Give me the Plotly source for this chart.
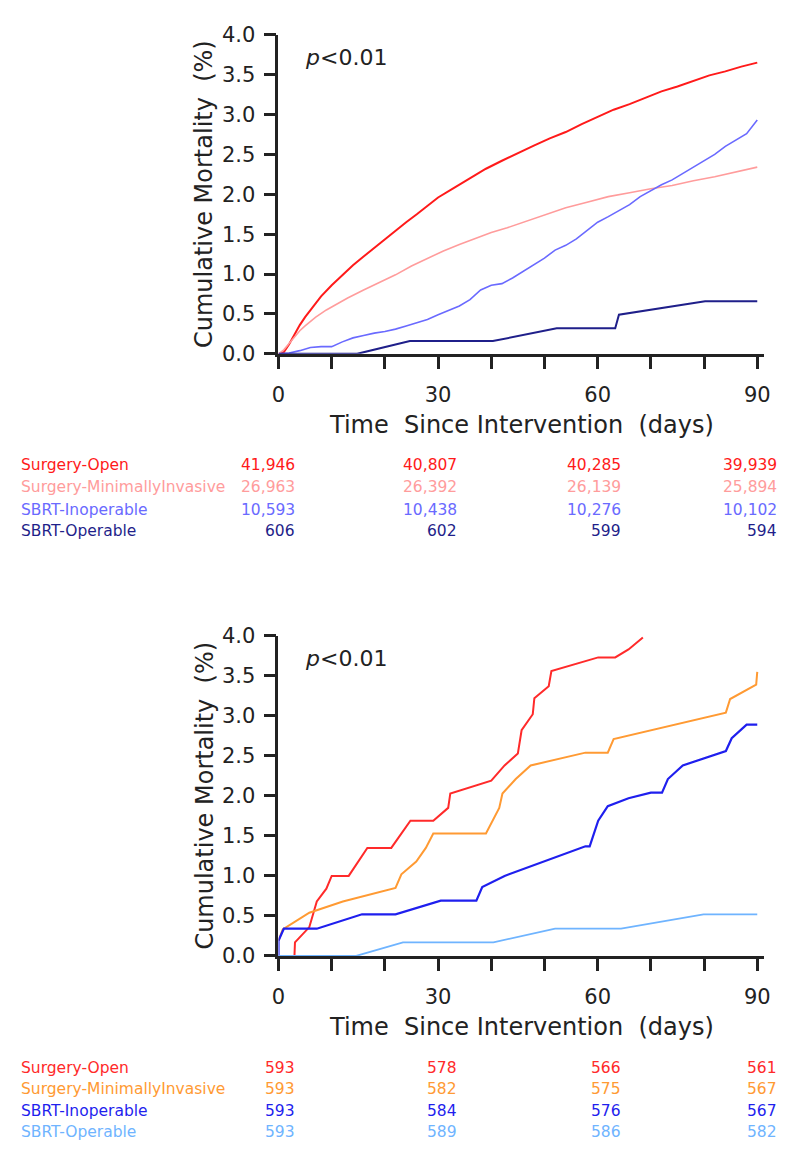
import plotly.graph_objects as go

# The page body has an 8px margin; the figure is sized so the page fits the 788x1159 window exactly.
PAGE_W, PAGE_H = 788, 1159
OFF = 8
W, H = PAGE_W - 2 * OFF, PAGE_H - 2 * OFF
FONT = "DejaVu Sans"

# ---------------- data: top panel ----------------
top_groups = ["Surgery-Open", "Surgery-MinimallyInvasive", "SBRT-Inoperable", "SBRT-Operable"]
top_colors = ["#ff1a1a", "#ff9c9c", "#6a6aff", "#1f1f8a"]
top_widths = [2.0, 1.6, 1.6, 2.0]

open_days = [0, 1, 2, 3, 4, 5, 6, 7, 8, 10, 12, 14, 16, 18, 20, 22, 24, 26, 28, 30, 33, 36, 39, 42, 45,
             48, 51, 54, 57, 60, 63, 66, 69, 72, 75, 78, 81, 84, 87, 90]
open_vals = [0, 0.02, 0.12, 0.25, 0.36, 0.46, 0.55, 0.64, 0.72, 0.86, 0.99, 1.11, 1.22, 1.33, 1.44, 1.54,
             1.65, 1.75, 1.85, 1.96, 2.08, 2.2, 2.32, 2.42, 2.52, 2.61, 2.7, 2.78, 2.88, 2.97, 3.06, 3.13,
             3.21, 3.29, 3.35, 3.42, 3.49, 3.54, 3.6, 3.65]

mi_days = [0, 1, 2, 3, 4, 5, 7, 9, 11, 13, 16, 19, 22, 25, 28, 31, 34, 37, 40, 43, 46, 50, 54, 58, 62, 66,
           70, 74, 78, 82, 86, 90]
mi_vals = [0, 0.05, 0.13, 0.21, 0.29, 0.35, 0.46, 0.55, 0.63, 0.7, 0.8, 0.89, 0.99, 1.1, 1.2, 1.29, 1.37,
           1.45, 1.52, 1.58, 1.65, 1.74, 1.83, 1.9, 1.97, 2.02, 2.07, 2.11, 2.17, 2.22, 2.28, 2.34]

inop_days = [0, 2, 4, 6, 8, 10, 12, 14, 16, 18, 20, 22, 24, 26, 28, 30, 32, 34, 36, 38, 40, 42, 44, 46, 48,
             50, 52, 54, 56, 58, 60, 62, 64, 66, 68, 70, 72, 74, 76, 78, 80, 82, 84, 86, 88, 90]
inop_vals = [0, 0.01, 0.04, 0.08, 0.09, 0.09, 0.15, 0.2, 0.23, 0.26, 0.28, 0.31, 0.35, 0.39, 0.43, 0.49,
             0.54, 0.6, 0.68, 0.8, 0.86, 0.88, 0.95, 1.03, 1.12, 1.2, 1.3, 1.36, 1.44, 1.55, 1.65, 1.72,
             1.79, 1.87, 1.97, 2.05, 2.12, 2.18, 2.26, 2.35, 2.43, 2.5, 2.6, 2.68, 2.76, 2.93]

op_days = [0, 14.8, 24.7, 40.3, 52.3, 63.3, 64, 80.2, 90]
op_vals = [0, 0, 0.16, 0.16, 0.32, 0.32, 0.49, 0.66, 0.66]

top_at_risk = [[41946, 40807, 40285, 39939],
               [26963, 26392, 26139, 25894],
               [10593, 10438, 10276, 10102],
               [606, 602, 599, 594]]

# ---------------- data: bottom panel ----------------
bot_groups = ["Surgery-Open", "Surgery-MinimallyInvasive", "SBRT-Inoperable", "SBRT-Operable"]
bot_colors = ["#ff2a2a", "#ff9a33", "#1f1fee", "#6fb4ff"]
bot_widths = [2.0, 2.0, 2.2, 1.8]

open2_days = [3, 3.1, 5.8, 7.2, 9, 10, 13.2, 16.7, 21.2, 24.8, 29.1, 31.9, 32.3, 40, 42.5, 45, 45.7, 47.8,
              48.1, 50.8, 51.3, 60.1, 63.3, 65.8, 68.5]
open2_vals = [0, 0.17, 0.36, 0.68, 0.84, 1.0, 1.0, 1.35, 1.35, 1.69, 1.69, 1.85, 2.03, 2.19, 2.38, 2.53,
              2.82, 3.02, 3.22, 3.37, 3.56, 3.73, 3.73, 3.83, 3.98]

mi2_days = [0, 0.8, 5.8, 12.1, 22, 23.1, 25.9, 27.7, 29.1, 39, 41.5, 42.1, 44.6, 47.4, 57.7, 61.9, 63,
            84.1, 84.9, 89.8, 90]
mi2_vals = [0.19, 0.33, 0.54, 0.68, 0.85, 1.02, 1.18, 1.35, 1.53, 1.53, 1.85, 2.03, 2.21, 2.38, 2.54,
            2.54, 2.71, 3.04, 3.21, 3.39, 3.55]

inop2_days = [0, 0, 1, 7.2, 15.7, 22, 30.5, 37.2, 38.3, 42.5, 57.7, 58.5, 60.1, 61.9, 65.8, 70, 72.1,
              73.2, 76, 84.1, 85.2, 88, 90]
inop2_vals = [0, 0.19, 0.34, 0.34, 0.52, 0.52, 0.69, 0.69, 0.86, 1.0, 1.37, 1.37, 1.69, 1.87, 1.97,
              2.04, 2.04, 2.21, 2.38, 2.56, 2.72, 2.89, 2.89]

op2_days = [0, 14.6, 23.4, 40.4, 52, 64.4, 79.9, 90]
op2_vals = [0, 0, 0.17, 0.17, 0.34, 0.34, 0.52, 0.52]

bot_at_risk = [[593, 578, 566, 561],
               [593, 582, 575, 567],
               [593, 584, 576, 567],
               [593, 589, 586, 582]]

x_tick_vals = [0, 10, 20, 30, 40, 50, 60, 70, 80, 90]
x_tick_text = ["0", "", "", "30", "", "", "60", "", "", "90"]
y_tick_vals = [0, 0.5, 1.0, 1.5, 2.0, 2.5, 3.0, 3.5, 4.0]
y_tick_text = ["0.0", "0.5", "1.0", "1.5", "2.0", "2.5", "3.0", "3.5", "4.0"]
x_title = "Time  Since Intervention  (days)"
y_title = "Cumulative Mortality  (%)"
p_text = "<i>p</i><0.01"

# ---------------- layout geometry (screen pixels) ----------------
px_x0, px_x1 = 276, 770           # x axis from day 0 to 91.3
x_range = [0, 91.3]
panels = [
    dict(ytop=23, ybot=349, table_y=[463, 485, 508, 530]),
    dict(ytop=637, ybot=964, table_y=[1078, 1100, 1122, 1144]),
]
col_right = [295, 460, 626, 785]


def fx(px):
    return (px - OFF) / W


def fy(py):
    return 1 - (py - OFF) / H


fig = go.Figure()

top_series = [(open_days, open_vals), (mi_days, mi_vals), (inop_days, inop_vals), (op_days, op_vals)]
bot_series = [(open2_days, open2_vals), (mi2_days, mi2_vals), (inop2_days, inop2_vals), (op2_days, op2_vals)]

for i, (d, v) in enumerate(top_series):
    fig.add_trace(go.Scatter(x=d, y=v, mode="lines", name=top_groups[i],
                             line=dict(color=top_colors[i], width=top_widths[i]),
                             xaxis="x", yaxis="y", showlegend=False))
for i, (d, v) in enumerate(bot_series):
    fig.add_trace(go.Scatter(x=d, y=v, mode="lines", name=bot_groups[i],
                             line=dict(color=bot_colors[i], width=bot_widths[i]),
                             xaxis="x2", yaxis="y2", showlegend=False))

axis_common_x = dict(range=x_range, tickmode="array", tickvals=x_tick_vals, ticktext=x_tick_text,
                     ticks="outside", ticklen=12, tickwidth=2.5, tickcolor="#222",
                     showline=True, linewidth=2.8, linecolor="#222", showgrid=False, zeroline=False,
                     tickfont=dict(family=FONT, size=21, color="#222"), ticklabelstandoff=8,
                     domain=[fx(px_x0), fx(px_x1)])
axis_common_y = dict(range=[0, 4], tickmode="array", tickvals=y_tick_vals, ticktext=y_tick_text,
                     ticks="outside", ticklen=12, tickwidth=2.5, tickcolor="#222",
                     showline=True, linewidth=2.8, linecolor="#222", showgrid=False, zeroline=False,
                     tickfont=dict(family=FONT, size=21, color="#222"), ticklabelstandoff=4)

fig.update_layout(
    width=W, height=H, margin=dict(l=0, r=0, t=0, b=0),
    paper_bgcolor="white", plot_bgcolor="white", showlegend=False,
    xaxis=dict(**axis_common_x, anchor="y"),
    yaxis=dict(**axis_common_y, anchor="x",
               domain=[fy(panels[0]["ybot"]), fy(panels[0]["ytop"])]),
    xaxis2=dict(**axis_common_x, anchor="y2"),
    yaxis2=dict(**axis_common_y, anchor="x2",
                domain=[fy(panels[1]["ybot"]), fy(panels[1]["ytop"])]),
)

annotations = []
tables = [(top_groups, top_colors, top_at_risk), (bot_groups, bot_colors, bot_at_risk)]
for k, p in enumerate(panels):
    mid = (p["ytop"] + p["ybot"]) / 2
    annotations.append(dict(text=y_title, x=fx(201), y=fy(mid), xref="paper", yref="paper",
                            textangle=-90, showarrow=False, xanchor="center", yanchor="middle",
                            font=dict(family=FONT, size=24, color="#222")))
    annotations.append(dict(text=x_title, x=fx(523), y=fy(p["ybot"] + 73), xref="paper", yref="paper",
                            showarrow=False, xanchor="center", yanchor="middle",
                            font=dict(family=FONT, size=24, color="#222")))
    annotations.append(dict(text=p_text, x=fx(301), y=fy(p["ytop"] + 23), xref="paper", yref="paper",
                            showarrow=False, xanchor="left", yanchor="middle",
                            font=dict(family=FONT, size=22, color="#222")))
    groups, colors, counts = tables[k]
    for r, g in enumerate(groups):
        ypos = fy(p["table_y"][r])
        annotations.append(dict(text=g, x=fx(12), y=ypos, xref="paper", yref="paper", showarrow=False,
                                xanchor="left", yanchor="middle",
                                font=dict(family=FONT, size=15.5, color=colors[r])))
        for c, n in enumerate(counts[r]):
            annotations.append(dict(text=f"{n:,}", x=fx(col_right[c]), y=ypos, xref="paper", yref="paper",
                                    showarrow=False, xanchor="right", yanchor="middle",
                                    font=dict(family=FONT, size=15.5, color=colors[r])))

fig.update_layout(annotations=annotations)
fig.write_html("out.html")
